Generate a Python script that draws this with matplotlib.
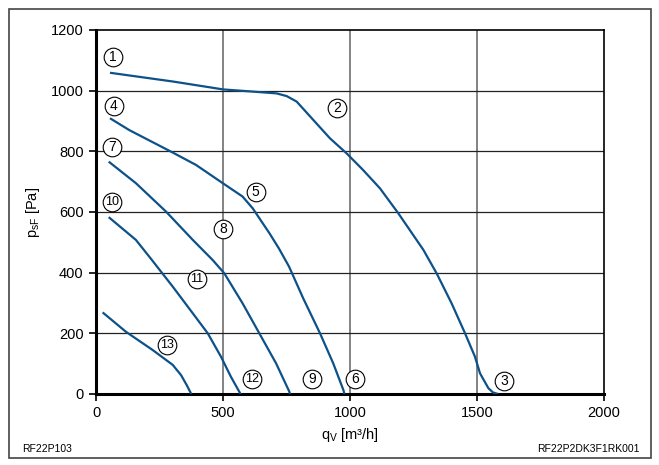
import matplotlib
matplotlib.use("Agg")
import matplotlib.pyplot as plt
from matplotlib.patches import Rectangle

plt.rcParams['font.family'] = ['Liberation Sans', 'DejaVu Sans']

# Fan curves (q_V in m³/h, p_sF in Pa)
c1_x = [55, 304, 501, 600, 711, 751, 790, 856, 921, 987, 1052, 1118, 1190, 1289, 1341, 1400, 1453, 1492, 1512, 1545, 1563, 1583]
c1_y = [1059, 1030, 1004, 998, 991, 982, 964, 903, 843, 793, 738, 678, 596, 475, 398, 299, 200, 123, 68, 19, 5, 0]

c2_x = [55, 131, 302, 394, 499, 577, 617, 682, 720, 760, 816, 882, 934, 974, 978]
c2_y = [909, 870, 796, 755, 695, 651, 612, 531, 480, 420, 315, 200, 101, 13, 0]

c3_x = [50, 157, 276, 381, 459, 505, 577, 643, 709, 761, 764]
c3_y = [766, 695, 601, 508, 442, 398, 299, 200, 101, 8, 0]

c4_x = [50, 157, 217, 302, 381, 440, 492, 531, 567, 569]
c4_y = [583, 508, 445, 354, 266, 200, 123, 57, 3, 0]

c5_x = [26, 118, 223, 302, 335, 358, 375]
c5_y = [269, 205, 145, 96, 62, 28, 0]

curves_x = [c1_x, c2_x, c3_x, c4_x, c5_x]
curves_y = [c1_y, c2_y, c3_y, c4_y, c5_y]

# Circled labels
lab_text = ['1', '2', '3', '4', '5', '6', '7', '8', '9', '10', '11', '12', '13']
lab_x = [66, 950, 1606, 70, 628, 1020, 62, 501, 852, 64, 396, 613, 278]
lab_y = [1112, 942, 44, 950, 667, 48, 814, 543, 48, 634, 379, 48, 161]

xticks = [0, 500, 1000, 1500, 2000]
yticks = [0, 200, 400, 600, 800, 1000, 1200]

fig = plt.figure(figsize=(6.59, 4.65), dpi=100)
ax = fig.add_axes([0.1457, 0.1527, 0.7708, 0.7828])
ax.set_xlim(0, 2000)
ax.set_ylim(0, 1200)

for xv in xticks[1:-1]:
    ax.axvline(xv, color='#7a7a7a', lw=1.3, zorder=1)
for yv in yticks[1:-1]:
    ax.axhline(yv, color='#222222', lw=0.9, zorder=1)

line_color = '#0d5189'
for xs, ys in zip(curves_x, curves_y):
    ax.plot(xs, ys, color=line_color, lw=1.6, solid_capstyle='butt',
            solid_joinstyle='round', zorder=3)

ax.scatter(lab_x, lab_y, s=180, facecolor='white', edgecolor='black', linewidth=0.8, zorder=4)
for t, xv, yv in zip(lab_text, lab_x, lab_y):
    ax.text(xv, yv, t, ha='center', va='center', fontsize=10 if len(t) == 1 else 9,
            zorder=5)

ax.set_xticks(xticks)
ax.set_yticks(yticks)
ax.tick_params(direction='out', length=5, width=1.2, labelsize=10.5, colors='black', pad=4)
for side in ['left', 'bottom']:
    ax.spines[side].set_linewidth(2.2)
for side in ['top', 'right']:
    ax.spines[side].set_linewidth(1.2)

ax.set_xlabel(r'q$_\mathregular{V}$ [m³/h]', fontsize=10.5, labelpad=4)
ax.set_ylabel(r'p$_\mathregular{sF}$ [Pa]', fontsize=10.5, labelpad=6)

fig.text(22 / 659, 1 - 449 / 465, 'RF22P103', fontsize=7.5, ha='left', va='center')
fig.text(640 / 659, 1 - 449 / 465, 'RF22P2DK3F1RK001', fontsize=7.5, ha='right', va='center')

fig.patches.append(Rectangle((9 / 659, 7 / 465), 642 / 659, 449 / 465, transform=fig.transFigure,
                             fill=False, edgecolor='#444444', lw=1.2))

fig.savefig('out.png', dpi=100)
